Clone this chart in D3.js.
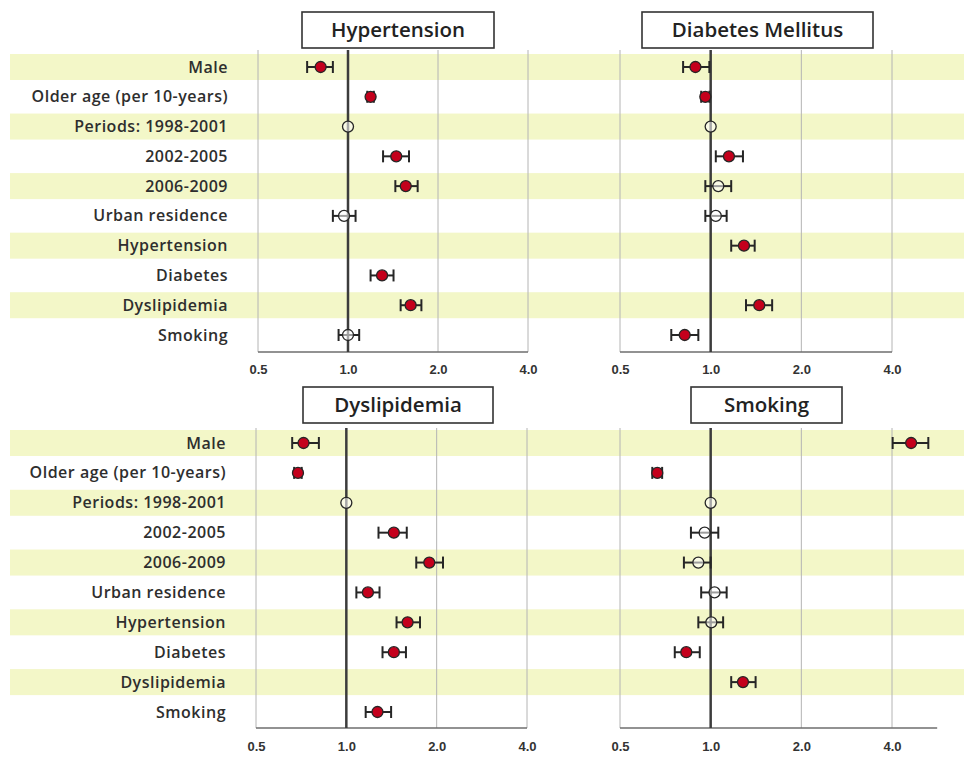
<!DOCTYPE html>
<html lang="en">
<head>
<meta charset="UTF-8">
<title>Forest plots</title>
<script src="https://d3js.org/d3.v7.min.js"></script>
<style>
body { margin: 0; background: #fff; }
svg { display: block; font-family: "Open Sans", sans-serif; }
</style>
</head>
<body>
<div id="container"></div>
<script>
// factors (rows) and tick labels
const factors = ["Male", "Older age (per 10-years)", "Periods: 1998-2001", "2002-2005", "2006-2009",
  "Urban residence", "Hypertension", "Diabetes", "Dyslipidemia", "Smoking"];
const tickValues = [0.5, 1, 2, 4];
const tickLabels = ["0.5", "1.0", "2.0", "4.0"];

// odds ratios, lower / upper CI; null = not in model, sig = filled red marker
const htnOR  = [0.81, 1.19, 1.00, 1.45, 1.56, 0.97, null, 1.30, 1.62, 1.00];
const htnLo  = [0.73, 1.16, null, 1.31, 1.44, 0.89, null, 1.19, 1.50, 0.93];
const htnHi  = [0.89, 1.22, null, 1.60, 1.71, 1.06, null, 1.42, 1.76, 1.09];
const htnSig = [1, 1, 0, 1, 1, 0, 0, 1, 1, 0];

const dmOR  = [0.89, 0.96, 1.00, 1.15, 1.06, 1.04, 1.29, null, 1.45, 0.82];
const dmLo  = [0.81, 0.93, null, 1.04, 0.96, 0.96, 1.17, null, 1.31, 0.74];
const dmHi  = [0.99, 0.99, null, 1.28, 1.17, 1.13, 1.40, null, 1.60, 0.91];
const dmSig = [1, 1, 0, 1, 0, 0, 1, 0, 1, 1];

const dysOR  = [0.72, 0.69, 1.00, 1.44, 1.89, 1.18, 1.60, 1.44, null, 1.27];
const dysLo  = [0.66, 0.67, null, 1.28, 1.71, 1.08, 1.47, 1.32, null, 1.16];
const dysHi  = [0.81, 0.71, null, 1.59, 2.10, 1.29, 1.76, 1.58, null, 1.41];
const dysSig = [1, 1, 0, 1, 1, 1, 1, 1, 0, 1];

const smkOR  = [4.63, 0.665, 1.00, 0.955, 0.91, 1.03, 1.005, 0.83, 1.28, null];
const smkLo  = [4.02, 0.64, null, 0.86, 0.815, 0.93, 0.91, 0.76, 1.17, null];
const smkHi  = [5.28, 0.69, null, 1.06, 1.00, 1.13, 1.10, 0.92, 1.41, null];
const smkSig = [1, 1, 0, 0, 0, 0, 0, 1, 1, 0];

const outcomes = ["Hypertension", "Diabetes Mellitus", "Dyslipidemia", "Smoking"];

// layout of the four panels
const panels = [
  { title: outcomes[0], or: htnOR, lo: htnLo, hi: htnHi, sig: htnSig,
    x0: 258, x1: 528, xMax: 4, top: 50, bottom: 352, rowY: [67, 335], tickY: 377,
    box: [302, 12, 192, 36], labels: true },
  { title: outcomes[1], or: dmOR, lo: dmLo, hi: dmHi, sig: dmSig,
    x0: 620, x1: 892, xMax: 4, top: 50, bottom: 352, rowY: [67, 335], tickY: 377,
    box: [642, 12, 231, 36], labels: false },
  { title: outcomes[2], or: dysOR, lo: dysLo, hi: dysHi, sig: dysSig,
    x0: 256, x1: 527, xMax: 4, top: 428, bottom: 728, rowY: [443, 712], tickY: 754,
    box: [303, 387, 190, 36], labels: true },
  { title: outcomes[3], or: smkOR, lo: smkLo, hi: smkHi, sig: smkSig,
    x0: 620, x1: 892, xMax: 5.65, top: 428, bottom: 728, rowY: [443, 712], tickY: 754,
    box: [691, 387, 151, 36], labels: false }
];

const width = 964, height = 760;
const svg = d3.select("#container").append("svg")
  .attr("width", width).attr("height", height);

// yellow stripes, one set for each panel row
[[67, 335], [443, 712]].forEach(r => {
  const y = d3.scalePoint().domain(factors).range(r);
  svg.append("g").selectAll("rect")
    .data(factors.filter((d, i) => i % 2 === 0))
    .join("rect")
    .attr("x", 10).attr("width", width - 10)
    .attr("y", d => y(d) - 13).attr("height", 26)
    .attr("fill", "#f3f7c8");
});

panels.forEach(p => {
  const x = d3.scaleLog().base(2).domain([0.5, 4]).range([p.x0, p.x1]);
  const y = d3.scalePoint().domain(factors).range(p.rowY);
  const g = svg.append("g");

  // grid lines at 0.5, 2, 4
  g.selectAll(".grid")
    .data(tickValues.filter(v => v !== 1))
    .join("line")
    .attr("x1", d => x(d)).attr("x2", d => x(d))
    .attr("y1", p.top).attr("y2", p.bottom)
    .attr("stroke", "#b4b4b4").attr("stroke-width", 1);

  // bottom axis
  const axis = d3.axisBottom(x).tickValues(tickValues)
    .tickFormat((d, i) => tickLabels[i]).tickSize(0).tickPadding(0);
  const ax = g.append("g").attr("transform", `translate(0,${p.tickY - 15})`).call(axis);
  ax.select(".domain").remove();
  ax.selectAll("text").attr("font-size", 13).attr("fill", "#333")
    .attr("font-weight", 600).attr("dy", "0.9em");
  g.append("line")
    .attr("x1", x(0.5)).attr("x2", x(p.xMax))
    .attr("y1", p.bottom).attr("y2", p.bottom)
    .attr("stroke", "#6e6e6e").attr("stroke-width", 1.5);

  // reference line at OR = 1
  g.append("line")
    .attr("x1", x(1)).attr("x2", x(1))
    .attr("y1", p.top).attr("y2", p.bottom)
    .attr("stroke", "#3c3c3c").attr("stroke-width", 2.5);

  const rows = factors.map((f, i) => ({ f, or: p.or[i], lo: p.lo[i], hi: p.hi[i], sig: p.sig[i] }))
    .filter(d => d.or !== null);

  // error bars
  const ci = rows.filter(d => d.lo !== null);
  g.selectAll(".ci").data(ci).join("line")
    .attr("x1", d => x(d.lo)).attr("x2", d => x(d.hi))
    .attr("y1", d => y(d.f)).attr("y2", d => y(d.f))
    .attr("stroke", "#262626").attr("stroke-width", 2);
  ["lo", "hi"].forEach(k => {
    g.selectAll(".cap-" + k).data(ci).join("line")
      .attr("x1", d => x(d[k])).attr("x2", d => x(d[k]))
      .attr("y1", d => y(d.f) - 6).attr("y2", d => y(d.f) + 6)
      .attr("stroke", "#262626").attr("stroke-width", 2);
  });

  // markers
  g.selectAll("circle").data(rows).join("circle")
    .attr("cx", d => x(d.or)).attr("cy", d => y(d.f))
    .attr("r", 5.5)
    .attr("fill", d => d.sig ? "#c4001c" : "#ffffff")
    .attr("fill-opacity", d => d.sig ? 1 : 0.55)
    .attr("stroke", "#262626").attr("stroke-width", 1.3);

  // row labels
  if (p.labels) {
    g.selectAll(".lab").data(factors).join("text")
      .attr("x", p.x0 - 30).attr("y", d => y(d))
      .attr("dy", "0.35em").attr("text-anchor", "end")
      .attr("font-size", 16).attr("font-weight", 600).attr("fill", "#2e2e2e")
      .attr("letter-spacing", 0.5)
      .text(d => d);
  }

  // title box
  const [bx, by, bw, bh] = p.box;
  g.append("rect").attr("x", bx).attr("y", by).attr("width", bw).attr("height", bh)
    .attr("fill", "#fff").attr("stroke", "#333").attr("stroke-width", 1.6);
  g.append("text").attr("x", bx + bw / 2).attr("y", by + bh / 2)
    .attr("dy", "0.35em").attr("text-anchor", "middle")
    .attr("font-size", 20.5).attr("font-weight", 600).attr("fill", "#222")
    .text(p.title);
});
</script>
</body>
</html>
